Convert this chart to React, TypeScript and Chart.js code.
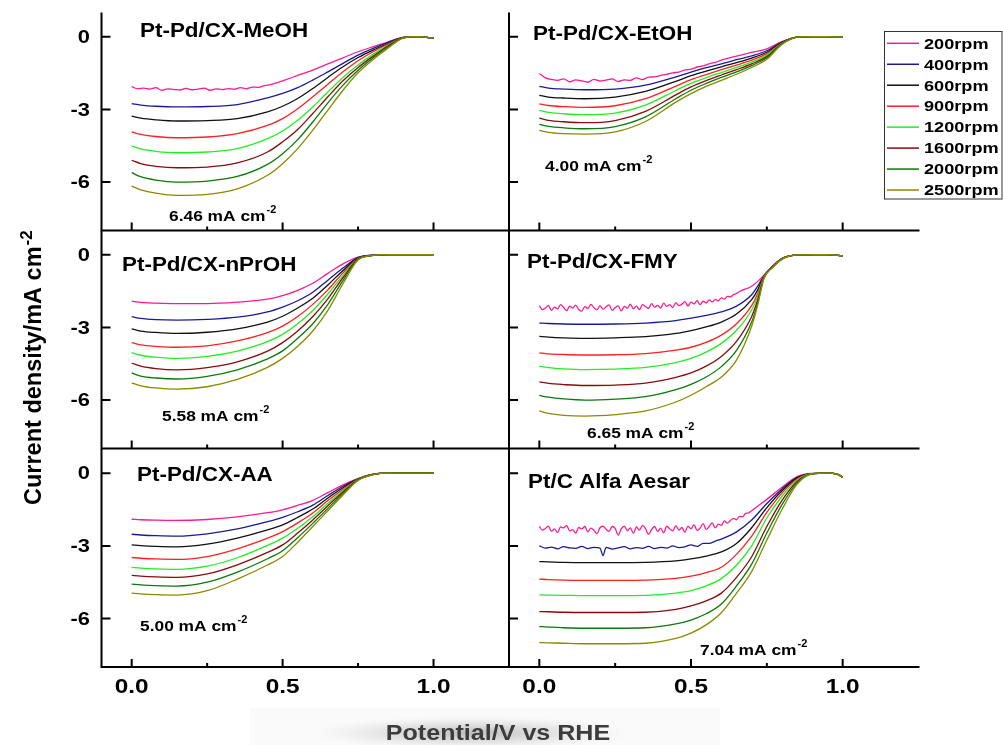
import React, { useEffect, useRef } from "react";
import { Chart, registerables } from "chart.js";
Chart.register(...registerables);

// ---------- legend / series ----------
const SERIES_LABELS = ["200rpm", "400rpm", "600rpm", "900rpm", "1200rpm", "1600rpm", "2000rpm", "2500rpm"];
const SERIES_COLORS = ["#ff1a8c", "#1a1a99", "#111111", "#ff2020", "#22ee22", "#8b0a0a", "#0a7a0a", "#8a8a00"];

// ---------- axes ----------
const X_TICKS = [0, 0.5, 1.0];
const X_TICK_LABELS = ["0.0", "0.5", "1.0"];
const X_MINOR = [0.25, 0.75];
const Y_TICKS = [0, -3, -6];
const Y_TICK_LABELS = ["0", "-3", "-6"];
const X_MIN = -0.1, X_MAX = 1.25, Y_MIN = -8, Y_MAX = 1;

// ---------- Pt-Pd/CX-MeOH ----------
const meohPot = [0, 0.03, 0.08, 0.15, 0.25, 0.35, 0.45, 0.5, 0.55, 0.6, 0.65, 0.7, 0.75, 0.8, 0.85, 0.9, 0.95, 1.0];
const meoh200Pot = [0, 0.02, 0.04, 0.06, 0.08, 0.1, 0.12, 0.14, 0.16, 0.18, 0.2, 0.22, 0.24, 0.26, 0.28, 0.3, 0.32, 0.34, 0.36, 0.38, 0.4, 0.42, 0.44, 0.46, 0.48, 0.5, 0.55, 0.6, 0.65, 0.7, 0.75, 0.8, 0.85, 0.9, 0.95, 1.0];
const meoh200 = [-2.06, -2.15, -2.12, -2.16, -2.1, -2.21, -2.15, -2.18, -2.2, -2.13, -2.19, -2.16, -2.12, -2.21, -2.15, -2.18, -2.14, -2.17, -2.1, -2.15, -2.08, -2.09, -2.02, -1.98, -1.91, -1.82, -1.6, -1.38, -1.12, -0.87, -0.62, -0.41, -0.21, -0.03, 0.0, -0.06];
const meoh400 = [-2.76, -2.82, -2.87, -2.9, -2.88, -2.8, -2.52, -2.34, -2.1, -1.79, -1.45, -1.1, -0.76, -0.48, -0.23, -0.03, 0.0, -0.06];
const meoh600 = [-3.28, -3.36, -3.43, -3.48, -3.46, -3.38, -3.1, -2.87, -2.55, -2.14, -1.68, -1.24, -0.86, -0.55, -0.28, -0.03, 0.0, -0.06];
const meoh900 = [-3.93, -4.03, -4.12, -4.17, -4.14, -4.0, -3.66, -3.38, -2.97, -2.48, -1.96, -1.45, -0.99, -0.62, -0.3, -0.04, 0.0, -0.06];
const meoh1200 = [-4.51, -4.63, -4.73, -4.79, -4.76, -4.62, -4.21, -3.89, -3.45, -2.9, -2.28, -1.68, -1.17, -0.72, -0.34, -0.05, 0.0, -0.06];
const meoh1600 = [-5.1, -5.24, -5.35, -5.41, -5.38, -5.21, -4.76, -4.34, -3.83, -3.17, -2.48, -1.82, -1.27, -0.8, -0.37, -0.05, 0.0, -0.06];
const meoh2000 = [-5.61, -5.78, -5.92, -6.0, -5.96, -5.77, -5.27, -4.83, -4.25, -3.52, -2.73, -2.0, -1.38, -0.87, -0.41, -0.05, 0.0, -0.06];
const meoh2500 = [-6.17, -6.32, -6.46, -6.55, -6.51, -6.28, -5.72, -5.24, -4.62, -3.86, -3.03, -2.21, -1.49, -0.94, -0.46, -0.06, 0.0, -0.06];

// ---------- Pt-Pd/CX-EtOH ----------
const etohPot = [0, 0.03, 0.08, 0.15, 0.25, 0.35, 0.45, 0.5, 0.55, 0.6, 0.65, 0.7, 0.75, 0.8, 0.85, 0.9, 0.95, 1.0];
const etoh200Pot = [0, 0.02, 0.04, 0.06, 0.08, 0.1, 0.12, 0.14, 0.16, 0.18, 0.2, 0.22, 0.24, 0.26, 0.28, 0.3, 0.32, 0.34, 0.36, 0.38, 0.4, 0.42, 0.44, 0.46, 0.48, 0.5, 0.52, 0.54, 0.56, 0.58, 0.6, 0.65, 0.7, 0.75, 0.8, 0.85, 0.9, 0.95, 1.0];
const etoh200 = [-1.52, -1.7, -1.76, -1.8, -1.74, -1.86, -1.78, -1.82, -1.88, -1.76, -1.83, -1.79, -1.74, -1.85, -1.78, -1.8, -1.7, -1.77, -1.67, -1.66, -1.6, -1.55, -1.49, -1.46, -1.37, -1.34, -1.25, -1.2, -1.12, -1.06, -0.97, -0.8, -0.65, -0.5, -0.2, -0.02, 0.0, 0.0, -0.03];
const etoh400 = [-2.05, -2.12, -2.16, -2.19, -2.16, -2.0, -1.66, -1.46, -1.28, -1.12, -0.95, -0.79, -0.58, -0.22, -0.02, 0.0, 0.0, -0.02];
const etoh600 = [-2.42, -2.49, -2.53, -2.56, -2.49, -2.26, -1.84, -1.61, -1.42, -1.24, -1.07, -0.88, -0.64, -0.24, -0.02, 0.0, 0.0, -0.02];
const etoh900 = [-2.77, -2.84, -2.89, -2.92, -2.85, -2.56, -2.04, -1.77, -1.56, -1.36, -1.17, -0.97, -0.7, -0.26, -0.02, 0.0, 0.0, -0.02];
const etoh1200 = [-3.04, -3.12, -3.18, -3.22, -3.15, -2.82, -2.22, -1.93, -1.69, -1.48, -1.27, -1.05, -0.76, -0.27, -0.02, 0.0, 0.0, -0.02];
const etoh1600 = [-3.36, -3.45, -3.51, -3.55, -3.46, -3.08, -2.4, -2.07, -1.81, -1.58, -1.36, -1.12, -0.82, -0.29, -0.02, 0.0, 0.0, -0.02];
const etoh2000 = [-3.62, -3.7, -3.76, -3.8, -3.71, -3.31, -2.56, -2.21, -1.93, -1.68, -1.45, -1.19, -0.87, -0.3, -0.02, 0.0, 0.0, -0.02];
const etoh2500 = [-3.87, -3.95, -4.0, -4.02, -3.93, -3.5, -2.7, -2.35, -2.05, -1.8, -1.55, -1.27, -0.93, -0.32, -0.02, 0.0, 0.0, -0.02];

// ---------- Pt-Pd/CX-nPrOH ----------
const nproPot = [0, 0.03, 0.08, 0.15, 0.25, 0.35, 0.45, 0.5, 0.55, 0.6, 0.65, 0.7, 0.75, 0.8, 0.85, 0.9, 0.95, 1.0];
const npro200 = [-1.92, -1.97, -2.0, -2.02, -2.02, -1.96, -1.83, -1.69, -1.47, -1.18, -0.77, -0.38, -0.1, -0.02, 0.0, 0.0, 0.0, 0.0];
const npro400 = [-2.56, -2.63, -2.68, -2.7, -2.67, -2.58, -2.36, -2.16, -1.9, -1.55, -1.05, -0.55, -0.12, -0.02, 0.0, 0.0, 0.0, 0.0];
const npro600 = [-3.06, -3.15, -3.21, -3.25, -3.2, -3.06, -2.78, -2.54, -2.2, -1.8, -1.25, -0.65, -0.14, -0.02, 0.0, 0.0, 0.0, 0.0];
const npro900 = [-3.63, -3.72, -3.78, -3.82, -3.76, -3.56, -3.22, -2.95, -2.55, -2.05, -1.45, -0.75, -0.16, -0.02, 0.0, 0.0, 0.0, 0.0];
const npro1200 = [-4.04, -4.15, -4.23, -4.28, -4.2, -3.98, -3.59, -3.29, -2.85, -2.3, -1.62, -0.85, -0.17, -0.03, 0.0, 0.0, 0.0, 0.0];
const npro1600 = [-4.47, -4.6, -4.7, -4.75, -4.66, -4.42, -3.98, -3.63, -3.15, -2.55, -1.82, -0.95, -0.18, -0.03, 0.0, 0.0, 0.0, 0.0];
const npro2000 = [-4.88, -5.01, -5.09, -5.13, -5.02, -4.75, -4.3, -3.97, -3.45, -2.85, -2.05, -1.07, -0.19, -0.03, 0.0, 0.0, 0.0, 0.0];
const npro2500 = [-5.29, -5.41, -5.5, -5.55, -5.45, -5.15, -4.65, -4.28, -3.78, -3.15, -2.3, -1.2, -0.22, -0.03, 0.0, 0.0, 0.0, 0.0];

// ---------- Pt-Pd/CX-FMY ----------
const fmyPot = [0, 0.03, 0.08, 0.15, 0.25, 0.35, 0.45, 0.5, 0.55, 0.6, 0.65, 0.7, 0.72, 0.74, 0.77, 0.8, 0.85, 0.9, 0.95, 1.0];
const fmy200Pot = [0, 0.01, 0.02, 0.03, 0.04, 0.05, 0.06, 0.07, 0.08, 0.09, 0.1, 0.11, 0.12, 0.13, 0.14, 0.15, 0.16, 0.17, 0.18, 0.19, 0.2, 0.21, 0.22, 0.23, 0.24, 0.25, 0.26, 0.27, 0.28, 0.29, 0.3, 0.31, 0.32, 0.33, 0.34, 0.35, 0.36, 0.37, 0.38, 0.39, 0.4, 0.41, 0.42, 0.43, 0.44, 0.45, 0.46, 0.47, 0.48, 0.49, 0.5, 0.51, 0.52, 0.53, 0.54, 0.55, 0.56, 0.57, 0.58, 0.59, 0.6, 0.61, 0.62, 0.63, 0.64, 0.65, 0.66, 0.7, 0.72, 0.74, 0.77, 0.8, 0.85, 0.9, 0.95, 1.0];
const fmy200 = [-2.1, -2.27, -2.2, -2.09, -2.3, -2.16, -2.24, -2.06, -2.18, -2.31, -2.12, -2.2, -2.08, -2.26, -2.33, -2.14, -2.22, -2.05, -2.19, -2.28, -2.1, -2.25, -2.15, -2.07, -2.3, -2.18, -2.11, -2.32, -2.13, -2.21, -2.04, -2.23, -2.12, -2.27, -2.06, -2.14, -2.22, -2.02, -2.17, -2.09, -2.2, -2.0, -2.13, -2.06, -2.18, -1.98, -2.1, -2.04, -1.94, -2.12, -1.96, -2.03, -1.9, -2.06, -1.92, -1.99, -1.86, -1.95, -1.84, -1.9, -1.78, -1.83, -1.72, -1.74, -1.65, -1.6, -1.52, -1.3, -1.1, -0.85, -0.45, -0.15, -0.01, 0.0, 0.0, -0.05];
const fmy400 = [-2.82, -2.84, -2.86, -2.87, -2.86, -2.82, -2.72, -2.62, -2.5, -2.36, -2.12, -1.65, -1.3, -0.88, -0.47, -0.16, -0.01, 0.0, 0.0, -0.05];
const fmy600 = [-3.37, -3.4, -3.43, -3.45, -3.43, -3.38, -3.25, -3.13, -2.98, -2.78, -2.45, -1.85, -1.45, -0.9, -0.48, -0.16, -0.01, 0.0, 0.0, -0.05];
const fmy900 = [-4.05, -4.09, -4.12, -4.14, -4.13, -4.08, -3.94, -3.82, -3.62, -3.32, -2.85, -2.1, -1.6, -0.92, -0.49, -0.17, -0.01, 0.0, 0.0, -0.05];
const fmy1200 = [-4.6, -4.66, -4.71, -4.74, -4.72, -4.65, -4.45, -4.28, -4.02, -3.66, -3.12, -2.28, -1.72, -0.94, -0.5, -0.17, -0.01, 0.0, 0.0, -0.05];
const fmy1600 = [-5.25, -5.31, -5.36, -5.4, -5.38, -5.3, -5.06, -4.88, -4.6, -4.2, -3.58, -2.55, -1.86, -0.96, -0.5, -0.18, -0.01, 0.0, 0.0, -0.05];
const fmy2000 = [-5.81, -5.88, -5.95, -6.0, -5.96, -5.86, -5.57, -5.35, -5.05, -4.62, -3.95, -2.78, -2.0, -0.98, -0.51, -0.18, -0.01, 0.0, 0.0, -0.05];
const fmy2500 = [-6.45, -6.55, -6.63, -6.66, -6.6, -6.45, -6.08, -5.8, -5.45, -5.05, -4.35, -2.95, -2.08, -1.0, -0.52, -0.18, -0.01, 0.0, 0.0, -0.05];

// ---------- Pt-Pd/CX-AA ----------
const aaPot = [0, 0.03, 0.08, 0.15, 0.25, 0.35, 0.45, 0.5, 0.55, 0.6, 0.65, 0.7, 0.75, 0.8, 0.85, 0.9, 0.95, 1.0];
const aa200 = [-1.9, -1.92, -1.94, -1.95, -1.91, -1.8, -1.63, -1.51, -1.33, -1.12, -0.8, -0.48, -0.22, -0.04, 0.0, 0.0, 0.0, 0.0];
const aa400 = [-2.52, -2.55, -2.58, -2.6, -2.5, -2.3, -2.0, -1.82, -1.59, -1.32, -0.92, -0.54, -0.23, -0.04, 0.0, 0.0, 0.0, 0.0];
const aa600 = [-2.96, -2.99, -3.02, -3.04, -2.93, -2.68, -2.34, -2.13, -1.82, -1.48, -1.02, -0.6, -0.24, -0.05, 0.0, 0.0, 0.0, 0.0];
const aa900 = [-3.48, -3.51, -3.54, -3.56, -3.44, -3.12, -2.68, -2.41, -2.05, -1.64, -1.13, -0.66, -0.25, -0.05, 0.0, 0.0, 0.0, 0.0];
const aa1200 = [-3.89, -3.92, -3.95, -3.97, -3.84, -3.49, -2.98, -2.68, -2.27, -1.8, -1.24, -0.72, -0.26, -0.05, 0.0, 0.0, 0.0, 0.0];
const aa1600 = [-4.22, -4.25, -4.28, -4.3, -4.16, -3.78, -3.27, -2.96, -2.47, -1.93, -1.34, -0.78, -0.27, -0.05, 0.0, 0.0, 0.0, 0.0];
const aa2000 = [-4.58, -4.61, -4.64, -4.66, -4.5, -4.08, -3.53, -3.2, -2.66, -2.07, -1.45, -0.84, -0.28, -0.06, 0.0, 0.0, 0.0, 0.0];
const aa2500 = [-4.95, -4.98, -5.01, -5.03, -4.85, -4.37, -3.79, -3.44, -2.85, -2.2, -1.55, -0.9, -0.3, -0.06, 0.0, 0.0, 0.0, 0.0];

// ---------- Pt/C Alfa Aesar ----------
const ptcPot = [0, 0.03, 0.08, 0.15, 0.25, 0.35, 0.45, 0.5, 0.55, 0.6, 0.65, 0.7, 0.75, 0.8, 0.85, 0.9, 0.95, 0.98, 1.0];
const ptc200Pot = [0, 0.01, 0.02, 0.03, 0.04, 0.05, 0.06, 0.07, 0.08, 0.09, 0.1, 0.11, 0.12, 0.13, 0.14, 0.15, 0.16, 0.17, 0.18, 0.19, 0.2, 0.21, 0.22, 0.23, 0.24, 0.25, 0.26, 0.27, 0.28, 0.29, 0.3, 0.31, 0.32, 0.33, 0.34, 0.35, 0.36, 0.37, 0.38, 0.39, 0.4, 0.41, 0.42, 0.43, 0.44, 0.45, 0.46, 0.47, 0.48, 0.49, 0.5, 0.51, 0.52, 0.53, 0.54, 0.55, 0.56, 0.57, 0.58, 0.59, 0.6, 0.61, 0.62, 0.63, 0.64, 0.65, 0.66, 0.67, 0.68, 0.69, 0.7, 0.71, 0.72, 0.75, 0.8, 0.85, 0.9, 0.95, 0.98, 1.0];
const ptc200 = [-2.2, -2.35, -2.28, -2.18, -2.4, -2.3, -2.45, -2.22, -2.26, -2.15, -2.38, -2.33, -2.47, -2.24, -2.3, -2.2, -2.42, -2.27, -2.36, -2.5, -2.25, -2.19, -2.31, -2.4, -2.2, -2.28, -2.56, -2.3, -2.18, -2.37, -2.26, -2.48, -2.22, -2.35, -2.15, -2.29, -2.52, -2.33, -2.2, -2.41, -2.27, -2.46, -2.19, -2.3, -2.38, -2.16, -2.35, -2.24, -2.44, -2.18, -2.3, -2.12, -2.36, -2.27, -2.08, -2.32, -2.2, -2.05, -2.26, -2.1, -2.15, -1.97, -2.06, -1.95, -1.86, -1.92, -1.78, -1.8, -1.66, -1.64, -1.55, -1.46, -1.36, -1.08, -0.58, -0.14, -0.01, 0.0, -0.03, -0.16];
const ptc400Pot = [0, 0.02, 0.04, 0.06, 0.08, 0.1, 0.12, 0.14, 0.16, 0.18, 0.2, 0.21, 0.22, 0.24, 0.26, 0.28, 0.3, 0.32, 0.34, 0.36, 0.38, 0.4, 0.42, 0.44, 0.46, 0.48, 0.5, 0.52, 0.54, 0.56, 0.58, 0.6, 0.65, 0.7, 0.75, 0.8, 0.85, 0.9, 0.95, 0.98, 1.0];
const ptc400 = [-3.0, -3.09, -3.05, -3.12, -3.03, -3.08, -3.1, -3.02, -3.11, -3.06, -3.09, -3.4, -3.06, -3.13, -3.08, -3.03, -3.12, -3.07, -3.1, -3.02, -3.11, -3.06, -3.09, -3.0, -3.07, -3.04, -2.96, -3.02, -2.9, -2.9, -2.8, -2.72, -2.42, -1.93, -1.25, -0.65, -0.17, -0.02, 0.0, -0.03, -0.16];
const ptc600 = [-3.65, -3.66, -3.68, -3.69, -3.69, -3.68, -3.62, -3.54, -3.42, -3.25, -2.9, -2.25, -1.42, -0.72, -0.2, -0.02, 0.0, -0.03, -0.16];
const ptc900 = [-4.37, -4.39, -4.41, -4.42, -4.42, -4.41, -4.34, -4.25, -4.1, -3.88, -3.35, -2.6, -1.62, -0.82, -0.24, -0.02, 0.0, -0.03, -0.16];
const ptc1200 = [-5.02, -5.03, -5.04, -5.05, -5.05, -5.04, -4.95, -4.85, -4.65, -4.35, -3.8, -3.0, -1.85, -0.95, -0.28, -0.02, 0.0, -0.03, -0.16];
const ptc1600 = [-5.71, -5.72, -5.74, -5.75, -5.75, -5.74, -5.62, -5.48, -5.27, -4.95, -4.3, -3.45, -2.2, -1.12, -0.34, -0.03, 0.0, -0.03, -0.16];
const ptc2000 = [-6.33, -6.35, -6.38, -6.4, -6.4, -6.38, -6.22, -6.06, -5.8, -5.4, -4.65, -3.75, -2.47, -1.3, -0.4, -0.03, 0.0, -0.03, -0.16];
const ptc2500 = [-6.99, -7.0, -7.02, -7.04, -7.04, -7.02, -6.82, -6.6, -6.26, -5.76, -4.95, -4.06, -2.76, -1.5, -0.45, -0.03, 0.0, -0.03, -0.16];

// ---------- panel layout ----------
const W = 1003, H = 745;
const FONT = '"Liberation Sans", Arial, Helvetica, sans-serif';
const COLS = [{ left: 101.5, right: 509 }, { left: 509, right: 918.5 }];
const ROWS = [{ top: 12.5, bottom: 230.5 }, { top: 230.5, bottom: 448.5 }, { top: 449, bottom: 667 }];

type Panel = {
  title: string; note: string; pots: number[][]; series: number[][];
  col: number; row: number; titleX: number; titleY: number; noteX: number; noteY: number;
};

const PANELS: Panel[] = [
  { title: "Pt-Pd/CX-MeOH", note: "6.46 mA cm",
    pots: [meoh200Pot, meohPot, meohPot, meohPot, meohPot, meohPot, meohPot, meohPot],
    series: [meoh200, meoh400, meoh600, meoh900, meoh1200, meoh1600, meoh2000, meoh2500],
    col: 0, row: 0, titleX: 140, titleY: 32, noteX: 169, noteY: 217 },
  { title: "Pt-Pd/CX-EtOH", note: "4.00 mA cm",
    pots: [etoh200Pot, etohPot, etohPot, etohPot, etohPot, etohPot, etohPot, etohPot],
    series: [etoh200, etoh400, etoh600, etoh900, etoh1200, etoh1600, etoh2000, etoh2500],
    col: 1, row: 0, titleX: 533, titleY: 35, noteX: 545, noteY: 167 },
  { title: "Pt-Pd/CX-nPrOH", note: "5.58 mA cm",
    pots: [nproPot, nproPot, nproPot, nproPot, nproPot, nproPot, nproPot, nproPot],
    series: [npro200, npro400, npro600, npro900, npro1200, npro1600, npro2000, npro2500],
    col: 0, row: 1, titleX: 122, titleY: 266, noteX: 162, noteY: 417 },
  { title: "Pt-Pd/CX-FMY", note: "6.65 mA cm",
    pots: [fmy200Pot, fmyPot, fmyPot, fmyPot, fmyPot, fmyPot, fmyPot, fmyPot],
    series: [fmy200, fmy400, fmy600, fmy900, fmy1200, fmy1600, fmy2000, fmy2500],
    col: 1, row: 1, titleX: 527, titleY: 263, noteX: 587, noteY: 434 },
  { title: "Pt-Pd/CX-AA", note: "5.00 mA cm",
    pots: [aaPot, aaPot, aaPot, aaPot, aaPot, aaPot, aaPot, aaPot],
    series: [aa200, aa400, aa600, aa900, aa1200, aa1600, aa2000, aa2500],
    col: 0, row: 2, titleX: 137, titleY: 476, noteX: 140, noteY: 627 },
  { title: "Pt/C Alfa Aesar", note: "7.04 mA cm",
    pots: [ptc200Pot, ptc400Pot, ptcPot, ptcPot, ptcPot, ptcPot, ptcPot, ptcPot],
    series: [ptc200, ptc400, ptc600, ptc900, ptc1200, ptc1600, ptc2000, ptc2500],
    col: 1, row: 2, titleX: 528, titleY: 483, noteX: 700, noteY: 651 },
];

function txt(ctx: CanvasRenderingContext2D, s: string, x: number, y: number, size: number, sx: number,
  align: string = "left", color: string = "#000", baseline: CanvasTextBaseline = "middle") {
  ctx.save();
  ctx.font = `bold ${size}px ${FONT}`;
  ctx.fillStyle = color;
  ctx.textBaseline = baseline;
  ctx.textAlign = "left";
  const w = ctx.measureText(s).width * sx;
  let x0 = x;
  if (align === "center") x0 = x - w / 2;
  else if (align === "right") x0 = x - w;
  ctx.translate(x0, y);
  ctx.scale(sx, 1);
  ctx.fillText(s, 0, 0);
  ctx.restore();
  return w;
}

function drawPanel(chart: any, p: Panel) {
  const ctx: CanvasRenderingContext2D = chart.ctx;
  const xs = chart.scales.x, ys = chart.scales.y;
  const L = xs.getPixelForValue(X_MIN), R = xs.getPixelForValue(X_MAX);
  const T = ys.getPixelForValue(Y_MAX), B = ys.getPixelForValue(Y_MIN);
  ctx.save();
  ctx.strokeStyle = "#000";
  ctx.lineWidth = 2;
  ctx.beginPath();
  ctx.moveTo(L, T); ctx.lineTo(L, B);
  ctx.moveTo(L - 1, B); ctx.lineTo(R + (p.col === 1 ? 1 : 0), B);
  for (const v of Y_TICKS) {
    const y = ys.getPixelForValue(v);
    ctx.moveTo(L, y); ctx.lineTo(L + 9, y);
  }
  for (const v of X_TICKS) {
    const x = xs.getPixelForValue(v);
    ctx.moveTo(x, B); ctx.lineTo(x, B - 8);
  }
  for (const v of X_MINOR) {
    const x = xs.getPixelForValue(v);
    ctx.moveTo(x, B); ctx.lineTo(x, B - 4);
  }
  ctx.stroke();
  ctx.restore();

  if (p.col === 0) {
    Y_TICKS.forEach((v, i) => txt(ctx, Y_TICK_LABELS[i], 90, ys.getPixelForValue(v) + 1, 19, 1.15, "right"));
  }
  if (p.row === 2) {
    X_TICKS.forEach((v, i) => txt(ctx, X_TICK_LABELS[i], xs.getPixelForValue(v), 687, 20, 1.22, "center"));
  }
  txt(ctx, p.title, p.titleX, p.titleY, 19.5, 1.15, "left");
  const w = txt(ctx, p.note, p.noteX, p.noteY, 15.5, 1.12, "left");
  txt(ctx, "-2", p.noteX + w + 1, p.noteY - 7, 10, 1.1, "left");
}

function drawGlobal(ctx: CanvasRenderingContext2D) {
  // legend
  ctx.save();
  ctx.strokeStyle = "#333";
  ctx.lineWidth = 1;
  ctx.strokeRect(884.5, 31.5, 117.5, 167.5);
  SERIES_LABELS.forEach((lab, i) => {
    const y = 43.3 + i * 20.96;
    ctx.strokeStyle = SERIES_COLORS[i];
    ctx.lineWidth = 1.5;
    ctx.beginPath();
    ctx.moveTo(887, y); ctx.lineTo(919, y);
    ctx.stroke();
    txt(ctx, lab, 924, y + 1, 15.5, 1.17, "left");
  });
  ctx.restore();

  // faint backdrop + smudge behind the x title
  ctx.save();
  ctx.fillStyle = "rgba(246,246,246,0.6)";
  ctx.fillRect(250, 708, 470, 37);
  ctx.translate(470, 733);
  ctx.scale(160, 17);
  const g2 = ctx.createRadialGradient(0, 0, 0, 0, 0, 1);
  g2.addColorStop(0, "rgba(100,100,100,0.42)");
  g2.addColorStop(0.55, "rgba(140,140,140,0.2)");
  g2.addColorStop(1, "rgba(190,190,190,0)");
  ctx.fillStyle = g2;
  ctx.beginPath();
  ctx.arc(0, 0, 1, 0, Math.PI * 2);
  ctx.fill();
  ctx.restore();
  txt(ctx, "Potential/V vs RHE", 498, 734, 22, 1.14, "center", "#3c3c3c");

  // y title
  ctx.save();
  ctx.translate(41, 505);
  ctx.rotate(-Math.PI / 2);
  ctx.font = `bold 23.5px ${FONT}`;
  ctx.fillStyle = "#000";
  ctx.textBaseline = "alphabetic";
  ctx.textAlign = "left";
  const main = "Current density/mA cm";
  ctx.fillText(main, 0, 0);
  const mw = ctx.measureText(main).width;
  ctx.font = `bold 17px ${FONT}`;
  ctx.fillText("-2", mw + 1, -9);
  ctx.restore();
}

export default function App() {
  const refs = useRef<(HTMLCanvasElement | null)[]>([]);
  useEffect(() => {
    const charts: Chart[] = [];
    PANELS.forEach((p, idx) => {
      const cv = refs.current[idx];
      if (!cv) return;
      const col = COLS[p.col], row = ROWS[p.row];
      const datasets = p.series.map((vals, i) => ({
        label: SERIES_LABELS[i],
        data: p.pots[i].map((x, j) => ({ x, y: vals[j] })),
        borderColor: SERIES_COLORS[i],
        backgroundColor: SERIES_COLORS[i],
        borderWidth: 1.3,
        pointRadius: 0,
        fill: false,
        cubicInterpolationMode: "monotone" as const,
        order: 7 - i,
      }));
      const chart = new Chart(cv, {
        type: "line",
        data: { datasets },
        options: {
          responsive: false,
          animation: false,
          events: [],
          layout: { padding: { left: col.left, right: W - col.right, top: row.top, bottom: H - row.bottom } },
          scales: {
            x: { type: "linear", min: X_MIN, max: X_MAX, display: false },
            y: { type: "linear", min: Y_MIN, max: Y_MAX, display: false },
          },
          plugins: { legend: { display: false }, tooltip: { enabled: false } },
        },
        plugins: [{
          id: "deco" + idx,
          afterDraw: (c: any) => {
            drawPanel(c, p);
            if (idx === 0) drawGlobal(c.ctx);
          },
        }],
      } as any);
      charts.push(chart);
    });
    return () => charts.forEach((c) => c.destroy());
  }, []);

  return (
    <div style={{ position: "fixed", left: 0, top: 0, width: W, height: H, background: "#fff" }}>
      {PANELS.map((_, i) => (
        <canvas
          key={i}
          ref={(el) => { refs.current[i] = el; }}
          width={W}
          height={H}
          style={{ position: "absolute", left: 0, top: 0, width: W, height: H }}
        />
      ))}
    </div>
  );
}
